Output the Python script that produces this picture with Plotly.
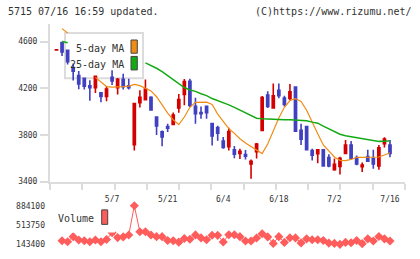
import plotly.graph_objects as go

# ---------------- data ----------------
idx = list(range(61))
opens = [4529, 4592, 4526, 4377, 4310, 4285, 4222, 4205, 4161, 4131,
         4294, 4205, 4277, 4222, 3717, 4076, 4103, 4122, 3954, 3828,
         3872, 3891, 4031, 4147, 4261, 4045, 3993, 4045, 3897, 3863,
         3748, 3700, 3673, 3642, 3632, 3551, 3657, 3839, 4142, 4031,
         4184, 4117, 4114, 4211, 3839, 3872, 3667, 3640, 3673, 3607,
         3502, 3530, 3642, 3714, 3607, 3527, 3615, 3599, 3535, 3725, 3714]
highs = [4531, 4595, 4530, 4412, 4349, 4291, 4269, 4310, 4165, 4219,
         4354, 4288, 4324, 4283, 4076, 4184, 4275, 4131, 3958, 3839,
         3897, 3993, 4151, 4280, 4283, 4120, 4045, 4049, 3900, 3880,
         3783, 3861, 3706, 3681, 3671, 3590, 3731, 4134, 4175, 4242,
         4242, 4136, 4236, 4214, 3897, 3875, 3681, 3676, 3676, 3634,
         3599, 3613, 3756, 3748, 3623, 3563, 3673, 3673, 3714, 3781, 3756]
lows = [4529, 4478, 4404, 4267, 4192, 4189, 4093, 4159, 4081, 4089,
        4228, 4147, 4189, 4189, 3667, 4035, 4100, 4007, 3800, 3704,
        3825, 3888, 3990, 4054, 4040, 3897, 3938, 3938, 3709, 3750,
        3681, 3667, 3601, 3593, 3590, 3425, 3599, 3836, 4031, 4028,
        4114, 4045, 4095, 3830, 3714, 3667, 3580, 3557, 3532, 3524,
        3494, 3460, 3640, 3590, 3540, 3483, 3571, 3510, 3502, 3692, 3609]
closes = [4531, 4512, 4429, 4346, 4238, 4219, 4205, 4302, 4131, 4194,
          4263, 4277, 4214, 4205, 4070, 4122, 4194, 4015, 3878, 3783,
          3858, 3971, 4103, 4258, 4054, 3982, 3982, 3990, 3792, 3816,
          3692, 3830, 3634, 3659, 3618, 3574, 3723, 4120, 4045, 4136,
          4136, 4062, 4170, 3833, 3764, 3673, 3626, 3673, 3535, 3535,
          3549, 3599, 3714, 3601, 3551, 3541, 3574, 3551, 3690, 3764, 3642]
# moving averages as drawn (None where hidden behind the legend box)
ma5 = [None, 4712, 4674, None, None, None, None, 4294, 4252, 4215,
       4211, 4211, 4215, 4219, 4233, 4223, 4203, 4178, 4128, 4054,
       3988, 3930, 3888, 3954, 4037, 4079, 4081, 4081, 4062, 3979,
       3917, 3855, 3814, 3768, 3731, 3702, 3673, 3640, 3723, 3839,
       3946, 4037, 4095, 4112, 4087, 4012, 3905, 3810, 3714, 3661,
       3611, 3582, 3580, 3590, 3607, 3607, 3607, 3607, 3611, 3628, 3648]
ma25 = [None, 4602, 4590, None, None, None, None, None, None, None,
        None, None, None, None, None, None, 4418, 4397, 4372, 4343,
        4310, 4277, 4240, 4207, 4186, 4174, 4153, 4137, 4112, 4095,
        4074, 4058, 4037, 4012, 3992, 3967, 3944, 3938, 3935, 3934,
        3934, 3930, 3930, 3927, 3925, 3921, 3910, 3901, 3876, 3851,
        3826, 3806, 3793, 3785, 3777, 3764, 3758, 3752, 3745, 3747, 3750]
volume = [None, 211900, 193400, 291500, 226700, 211900, 193400, 226700, 193400, 236000,
          365600, 273000, 286000, 323000, 884100, 384100, 384100, 323000, 291500, 291500,
          217500, 211900, 186000, 254500, 241500, 324900, 267500, 232300, 319300, 315600,
          189700, 328600, 328600, 291500, 208200, 208200, 263800, 347100, 286000, 161900,
          291500, 180400, 269300, 267500, 171200, 248900, 232300, 232300, 217500, 167500,
          161900, 143400, 180400, 174900, 217500, 156400, 248900, 208200, 295200, 248900, 208200]
date_tick_idx = [10, 20, 30, 40, 50, 60]
date_tick_labels = ["5/7", "5/21", "6/4", "6/18", "7/2", "7/16"]
price_ticks = [3400, 3800, 4200, 4600]

# ---------------- style ----------------
W, H = 420, 259
L, R = 50, 15
RED = "#d40000"
BLUE = "#4040c0"
ORANGE = "#f08c14"
GREEN = "#14aa14"
VOLC = "#ff5c5c"
AX = "#dcdcdc"
TXT = "#333333"
FONT = "DejaVu Sans Mono"

def px(x):
    return (x - L) / (W - L - R)

def py(y):
    return (H - y) / H

xr = [-1.17, 62.7]
vmin = min(v for v in volume if v is not None)
vmax = max(v for v in volume if v is not None)
vol_ticks = [vmin, (vmin + vmax) / 2, vmax]

fig = go.Figure()
fig.add_trace(go.Candlestick(
    x=idx, open=opens, high=highs, low=lows, close=closes,
    increasing=dict(line=dict(color=RED, width=1.6), fillcolor=RED),
    decreasing=dict(line=dict(color=BLUE, width=1.6), fillcolor=BLUE),
    whiskerwidth=0, showlegend=False, hoverinfo="skip",
    xaxis="x", yaxis="y"))
fig.add_trace(go.Scatter(x=idx, y=ma5, mode="lines", line=dict(color=ORANGE, width=1.2),
                         connectgaps=False, showlegend=False, hoverinfo="skip", xaxis="x", yaxis="y"))
fig.add_trace(go.Scatter(x=idx, y=ma25, mode="lines", line=dict(color=GREEN, width=1.5),
                         connectgaps=False, showlegend=False, hoverinfo="skip", xaxis="x", yaxis="y"))
fig.add_trace(go.Scatter(x=idx, y=volume, mode="lines+markers",
                         line=dict(color=VOLC, width=1),
                         marker=dict(symbol="diamond", size=7, color=VOLC),
                         cliponaxis=False, showlegend=False, hoverinfo="skip",
                         xaxis="x2", yaxis="y2"))

fig.update_layout(
    width=W, height=H, margin=dict(l=L, r=R, t=0, b=0, pad=0),
    paper_bgcolor="white", plot_bgcolor="white",
    font=dict(family=FONT, size=8, color=TXT),
    boxgap=0.45,
    xaxis=dict(domain=[0, 1], range=xr, anchor="y", showline=True, linecolor=AX, linewidth=2,
               ticks="outside", ticklen=6, tickwidth=2, tickcolor=AX,
               tick0=xr[0], dtick=(xr[1] - xr[0]) / 11, showticklabels=False,
               showgrid=False, zeroline=False, rangeslider=dict(visible=False), fixedrange=True),
    yaxis=dict(domain=[py(184), py(20.9)], range=[3400, 4750], anchor="x",
               showline=True, linecolor=AX, linewidth=2,
               ticks="outside", ticklen=8, tickwidth=1.5, tickcolor=AX,
               tickvals=price_ticks, tickformat="d", ticklabelstandoff=1,
               showgrid=False, zeroline=False),
    xaxis2=dict(domain=[0, 1], range=xr, anchor="y2", side="top", showline=False,
                ticks="", tickvals=date_tick_idx, ticktext=date_tick_labels,
                ticklabelstandoff=1, showgrid=False, zeroline=False),
    yaxis2=dict(domain=[py(249), py(209)], range=[vmin, vmax], anchor="x2",
                showline=False, ticks="", tickvals=vol_ticks, tickformat="d",
                ticklabelstandoff=4, showgrid=False, zeroline=False),
)

shapes = [
    dict(type="rect", xref="paper", yref="paper", x0=px(65), x1=px(143), y0=py(77), y1=py(30),
         line=dict(color=AX, width=2), fillcolor="rgba(0,0,0,0)", layer="below"),
    dict(type="rect", xref="paper", yref="paper", x0=px(131), x1=px(137.3), y0=py(51), y1=py(37.3),
         line=dict(color="#444444", width=1), fillcolor=ORANGE, layer="above"),
    dict(type="rect", xref="paper", yref="paper", x0=px(131), x1=px(137.3), y0=py(68.3), y1=py(54.3),
         line=dict(color="#444444", width=1), fillcolor=GREEN, layer="above"),
    dict(type="rect", xref="paper", yref="paper", x0=px(52), x1=px(115), y0=py(236.7), y1=py(205),
         line=dict(width=0), fillcolor="white", layer="above"),
    dict(type="rect", xref="paper", yref="paper", x0=px(101.7), x1=px(107.7), y0=py(228.3), y1=py(213.3),
         line=dict(color="#444444", width=1), fillcolor=VOLC, layer="above"),
]
annotations = [
    dict(text="5-day MA", x=px(126), y=py(46), xanchor="right", yanchor="middle"),
    dict(text="25-day MA", x=px(126), y=py(63), xanchor="right", yanchor="middle"),
    dict(text="Volume", x=px(56), y=py(222), xanchor="left", yanchor="middle"),
    dict(text="5715 07/16 16:59 updated.", x=px(6), y=py(7.5), xanchor="left", yanchor="middle"),
    dict(text="(C)https://www.rizumu.net/", x=px(414), y=py(7.5), xanchor="right", yanchor="middle"),
]
for a in annotations:
    a.update(xref="paper", yref="paper", showarrow=False, font=dict(family=FONT, size=10, color=TXT))
fig.update_layout(shapes=shapes, annotations=annotations)

fig.write_html("out.html")
